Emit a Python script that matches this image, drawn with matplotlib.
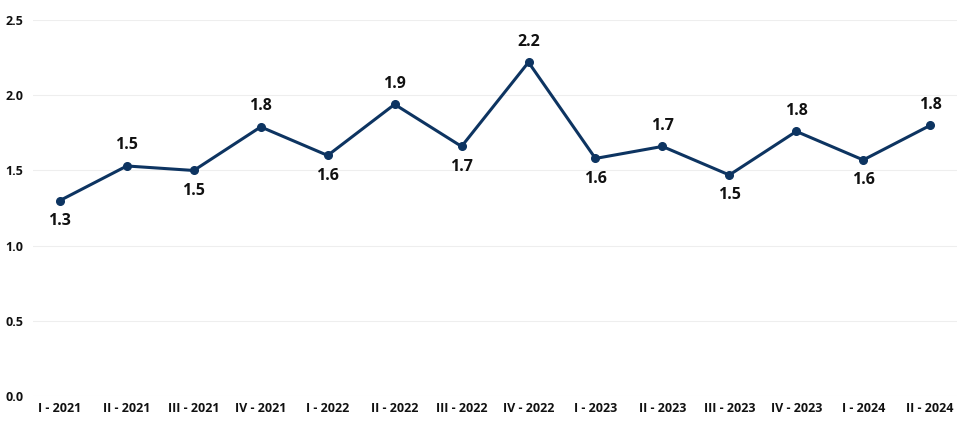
import numpy as np
import matplotlib.pyplot as plt

quarters = ["I - 2021", "II - 2021", "III - 2021", "IV - 2021",
            "I - 2022", "II - 2022", "III - 2022", "IV - 2022",
            "I - 2023", "II - 2023", "III - 2023", "IV - 2023",
            "I - 2024", "II - 2024"]
values = [1.30, 1.53, 1.50, 1.79, 1.60, 1.94, 1.66, 2.22,
          1.58, 1.66, 1.47, 1.76, 1.57, 1.80]
labels = ["1.3", "1.5", "1.5", "1.8", "1.6", "1.9", "1.7", "2.2",
          "1.6", "1.7", "1.5", "1.8", "1.6", "1.8"]
below = [True, False, True, False, True, False, True, False,
         True, False, True, False, True, False]
yticks = [0.0, 0.5, 1.0, 1.5, 2.0, 2.5]

plt.rcParams['font.family'] = ['Open Sans', 'DejaVu Sans']

fig = plt.figure(figsize=(9.74, 4.29), dpi=100)
ax = fig.add_axes([0.034, 0.077, 0.9485, 0.876])

color = '#0d3461'
x = np.arange(len(quarters))
ax.plot(x, values, color=color, linewidth=2.2, marker='o', markersize=5.5, zorder=3)

for xi, v, lab, b in zip(x, values, labels, below):
    off = -9 if b else 9
    ax.annotate(lab, (xi, v), xytext=(0, off), textcoords='offset points',
                ha='center', va='top' if b else 'bottom',
                fontsize=11.5, fontweight='bold', color='#111111')

ax.set_xlim(-0.4, len(quarters) - 0.6)
ax.set_ylim(0, 2.5)
ax.set_yticks(yticks)
ax.set_yticklabels([f"{t:.1f}" for t in yticks])
ax.set_xticks(x)
ax.set_xticklabels(quarters)
for lab in ax.get_xticklabels() + ax.get_yticklabels():
    lab.set_fontweight('bold')
    lab.set_fontsize(9)
    lab.set_color('#111111')

ax.grid(axis='y', color='#eeeeee', linewidth=0.8)
ax.set_axisbelow(True)
for s in ax.spines.values():
    s.set_visible(False)
ax.tick_params(length=0, pad=4)
ax.tick_params(axis='y', pad=7)

fig.savefig('out.png', dpi=100, facecolor='white')
